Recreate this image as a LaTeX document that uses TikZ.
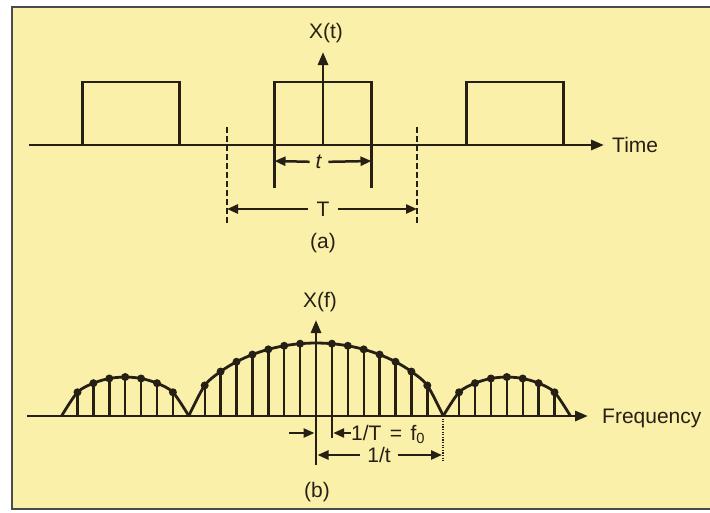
\documentclass[tikz,border=0pt]{standalone}
\usepackage{fontspec}
\setmainfont{Liberation Sans}
\usetikzlibrary{arrows.meta,calc}
\definecolor{paper}{RGB}{251,240,170}
\definecolor{rim}{RGB}{75,75,75}
\definecolor{ink}{RGB}{38,32,20}

\begin{document}
\begin{tikzpicture}[x=1pt,y=-1pt,
    trace/.style={ink,line width=2.8pt},
    stem/.style={ink,line width=2.4pt},
    axisarrow/.style={ink,line width=2.9pt,-{Triangle[length=13pt,width=10pt]}},
    dimarrow/.style={ink,line width=2.5pt,-{Triangle[length=11pt,width=9pt]}},
    lbl/.style={font=\fontsize{21}{24}\selectfont,text=ink,inner sep=0pt}]
  \useasboundingbox (0,0) rectangle (710,512);
  \fill[paper] (12,7) rectangle (710,509);
  \draw[rim,line width=1.6pt] (710,7) -- (12,7) -- (12,509) -- (710,509);

  % (a) time signal
  \coordinate (ta) at (29,145);
  \coordinate (tb) at (604,145);
  \draw[axisarrow] (ta) -- (tb);
  \node[lbl,anchor=base west] (time) at (612,152.5) {Time};
  \foreach \c in {131,515}
    \draw[trace] (\c-48.5,145) -- (\c-48.5,82) -- (\c+48.5,82) -- (\c+48.5,145);
  \draw[trace] (274.5,188) -- (274.5,82) -- (371.5,82) -- (371.5,188);
  \coordinate (xo) at (323,145);
  \coordinate (xtop) at (323,52);
  \draw[axisarrow] (xo) -- (xtop);
  \node[lbl] (xt) at (326,33) {X(t)};

  \coordinate (pl) at (274.5,161);
  \coordinate (pr) at (371.5,161);
  \node[lbl,inner sep=6pt] (tw) at (319,162) {\textit{t}};
  \draw[dimarrow] (tw) -- (pl);
  \draw[dimarrow] (tw) -- (pr);

  \foreach \d in {227,417}
    \draw[ink,line width=2.4pt,dash pattern=on 6pt off 3pt] (\d,127) -- (\d,223);
  \coordinate (da) at (227,209);
  \coordinate (db) at (417,209);
  \node[lbl,inner sep=8pt] (per) at (323,209) {T};
  \draw[dimarrow] (per) -- (da);
  \draw[dimarrow] (per) -- (db);
  \node[lbl] (capa) at (323,243) {(a)};

  % (b) line spectrum
  \coordinate (fa) at (27,416);
  \coordinate (fb) at (588,416);
  \draw[axisarrow] (fa) -- (fb);
  \node[lbl,anchor=base west] (freq) at (602,423.5) {Frequency};

  \draw[trace] plot[smooth,domain=-8:8,samples=17]
    ({316+15.9*\x},{416-73*(max(1-(\x/8)^2,0.00001))^0.6});
  \foreach \cc in {125.2,506.8}
    \draw[trace] plot[smooth,domain=-4:4,samples=9]
      ({\cc+15.9*\x},{416-39*(max(1-(\x/4)^2,0.00001))^0.6});

  \foreach \k in {-7,...,-1,1,2,...,7}{
    \pgfmathsetmacro\hh{73*(1-(\k/8)^2)^0.6}
    \draw[stem] (316+15.9*\k,416) -- (316+15.9*\k,416-\hh);
    \fill[ink] (316+15.9*\k,416-\hh) circle (4pt);
  }
  \foreach \m in {-3,...,3}{
    \pgfmathsetmacro\hh{39*(1-(\m/4)^2)^0.6}
    \foreach \cc in {125.2,506.8}{
      \draw[stem] (\cc+15.9*\m,416) -- (\cc+15.9*\m,416-\hh);
      \fill[ink] (\cc+15.9*\m,416-\hh) circle (4pt);
    }
  }

  \coordinate (fo) at (316,465);
  \coordinate (ftop) at (316,320);
  \draw[axisarrow] (fo) -- (ftop);
  \node[lbl] (xf) at (320,302) {X(f)};

  \draw[stem] (331.9,416) -- (331.9,438);
  \coordinate (af) at (289,433);
  \coordinate (ax1) at (314.5,433);
  \coordinate (s1) at (333.2,433);
  \draw[dimarrow] (af) -- (ax1);
  \node[lbl,anchor=base west] (fzero) at (351,440.5)
    {1/T\hspace{0.4em}=\hspace{0.4em}f\textsubscript{0}};
  \draw[dimarrow] (fzero.west|-s1) -- (s1);

  \draw[ink,line width=1.8pt,dash pattern=on 1.2pt off 1.4pt] (443.2,416) -- (443.2,462);
  \coordinate (ax2) at (317.5,455);
  \coordinate (dz) at (442,455);
  \node[lbl,inner sep=7pt] (inv) at (379,455) {1/t};
  \draw[dimarrow] (inv) -- (ax2);
  \draw[dimarrow] (inv) -- (dz);
  \node[lbl] (capb) at (317,492) {(b)};
\end{tikzpicture}
\end{document}
